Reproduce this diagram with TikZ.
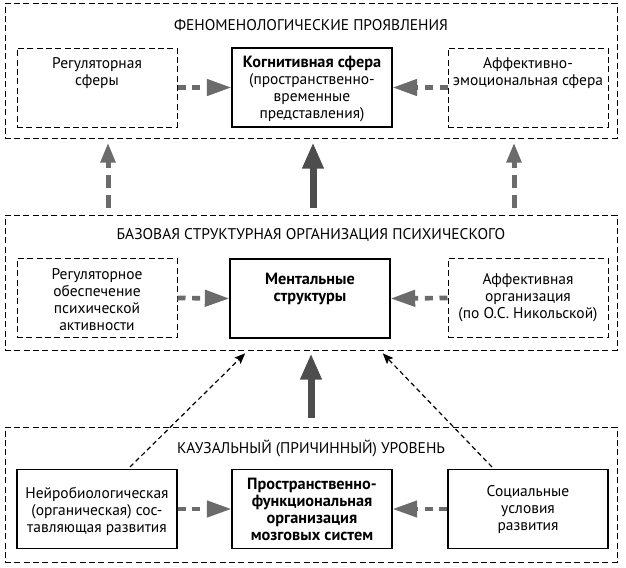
\documentclass[tikz,border=0pt]{standalone}
\usepackage{fontspec}
\setmainfont{PT Sans}
\usetikzlibrary{arrows.meta}
\definecolor{arrgray}{HTML}{6B6B6B}
\definecolor{arrdark}{HTML}{4D4D4D}
\begin{document}
\begin{tikzpicture}[x=0.75pt,y=-0.75pt,
  outerbox/.style={draw, dash pattern=on 4.5pt off 2.5pt, line width=0.75pt,
    minimum width=459pt, minimum height=101.25pt, inner sep=0pt},
  dbox/.style={draw, dash pattern=on 4.5pt off 2.5pt, line width=0.75pt,
    minimum width=120pt, minimum height=59.25pt, inner sep=0pt},
  sbox/.style={draw, line width=0.8pt,
    minimum width=120pt, minimum height=59.25pt, inner sep=0pt},
  txt/.style={align=center, inner sep=0pt, font=\fontsize{11.6}{12.75}\selectfont},
  btxt/.style={txt, font=\fontsize{12.2}{12.75}\selectfont\bfseries},
  hdash/.style={draw=arrgray, line width=3.5pt, dash pattern=on 6pt off 5pt,
    -{Triangle[length=18.5pt,width=12pt]}},
  vdash/.style={draw=arrgray, line width=3.75pt, dash pattern=on 9.75pt off 5.25pt,
    -{Triangle[length=15pt,width=10.5pt]}},
  vsolid/.style={draw=arrdark, line width=5.25pt,
    -{Triangle[length=19.5pt,width=15pt]}},
  thindash/.style={draw=black, line width=0.9pt, dash pattern=on 3.5pt off 2.5pt,
    -{Stealth[length=8pt,width=6.5pt,inset=1.5pt]}}
]
\useasboundingbox (0,0) rectangle (626,568);

% outer boxes
\node[outerbox] (topouter) at (311,70.5) {};
\node[outerbox] (midouter) at (311,282.5) {};
\node[outerbox] (botouter) at (311,494.5) {};

\node[txt] (toptitle) at (311,25) {ФЕНОМЕНОЛОГИЧЕСКИЕ ПРОЯВЛЕНИЯ};
\node[txt] (midtitle) at (311,235) {БАЗОВАЯ СТРУКТУРНАЯ ОРГАНИЗАЦИЯ ПСИХИЧЕСКОГО};
\node[txt] (bottitle) at (311,448) {КАУЗАЛЬНЫЙ (ПРИЧИННЫЙ) УРОВЕНЬ};

% top row
\node[dbox] (regs) at (97,87.5) {};
\node[sbox] (cog) at (312,87.5) {};
\node[dbox] (aff) at (528,87.5) {};
\node[txt] (regst) at (97,73.5) {Регуляторная\\сферы};
\node[txt] (cogt) at (312,89.5) {{\fontsize{12.2}{12.75}\selectfont\bfseries Когнитивная сфера}\\(пространственно-\\временные\\представления)};
\node[txt] (afft) at (528,73.5) {Аффективно-\\эмоциональная сфера};

% middle row
\node[dbox] (rego) at (97,298) {};
\node[sbox] (ment) at (310,298.5) {};
\node[dbox] (affo) at (528,298) {};
\node[txt] (regot) at (97,299.5) {Регуляторное\\обеспечение\\психической\\активности};
\node[btxt] (mentt) at (310,288.5) {Ментальные\\структуры};
\node[txt] (affot) at (528,297.5) {Аффективная\\организация\\(по О.С. Никольской)};

% bottom row
\node[sbox] (neuro) at (97,509) {};
\node[sbox] (brain) at (312,509) {};
\node[sbox] (soc) at (528,509) {};
\node[txt] (neurot) at (97,511) {Нейробиологическая\\(органическая) сос-\\тавляющая развития};
\node[btxt] (braint) at (312,509) {Пространственно-\\функциональная\\организация\\мозговых систем};
\node[txt] (soct) at (528,510) {Социальные\\условия\\развития};

% horizontal arrows
\draw[hdash] (regs.east) -- (cog.west);
\draw[hdash] (aff.west) -- (cog.east);
\draw[hdash] (rego.east) -- (ment.west);
\draw[hdash] (affo.west) -- (ment.east);
\draw[hdash] (neuro.east) -- (brain.west);
\draw[hdash] (soc.west) -- (brain.east);

% vertical arrows
\coordinate (xl) at (108,0);
\coordinate (xc) at (313,0);
\coordinate (xr) at (514,0);
\coordinate (xb) at (311,0);
\draw[vdash, shorten <=5.25pt, shorten >=3pt] (midouter.north -| xl) -- (topouter.south -| xl);
\draw[vsolid, shorten <=5.25pt, shorten >=3pt] (midouter.north -| xc) -- (topouter.south -| xc);
\draw[vdash, shorten <=5.25pt, shorten >=3pt] (midouter.north -| xr) -- (topouter.south -| xr);
\draw[vsolid, shorten <=6.75pt, shorten >=2.25pt] (botouter.north -| xb) -- (midouter.south -| xb);

% thin dashed arrows
\coordinate (sl) at (130,0);
\coordinate (el) at (248,0);
\coordinate (sr) at (492,0);
\coordinate (er) at (380,0);
\draw[thindash, shorten >=3pt] ([yshift=1.5pt]neuro.north -| sl) -- (midouter.south -| el);
\draw[thindash, shorten >=3pt] ([yshift=1.5pt]soc.north -| sr) -- (midouter.south -| er);
\end{tikzpicture}
\end{document}
